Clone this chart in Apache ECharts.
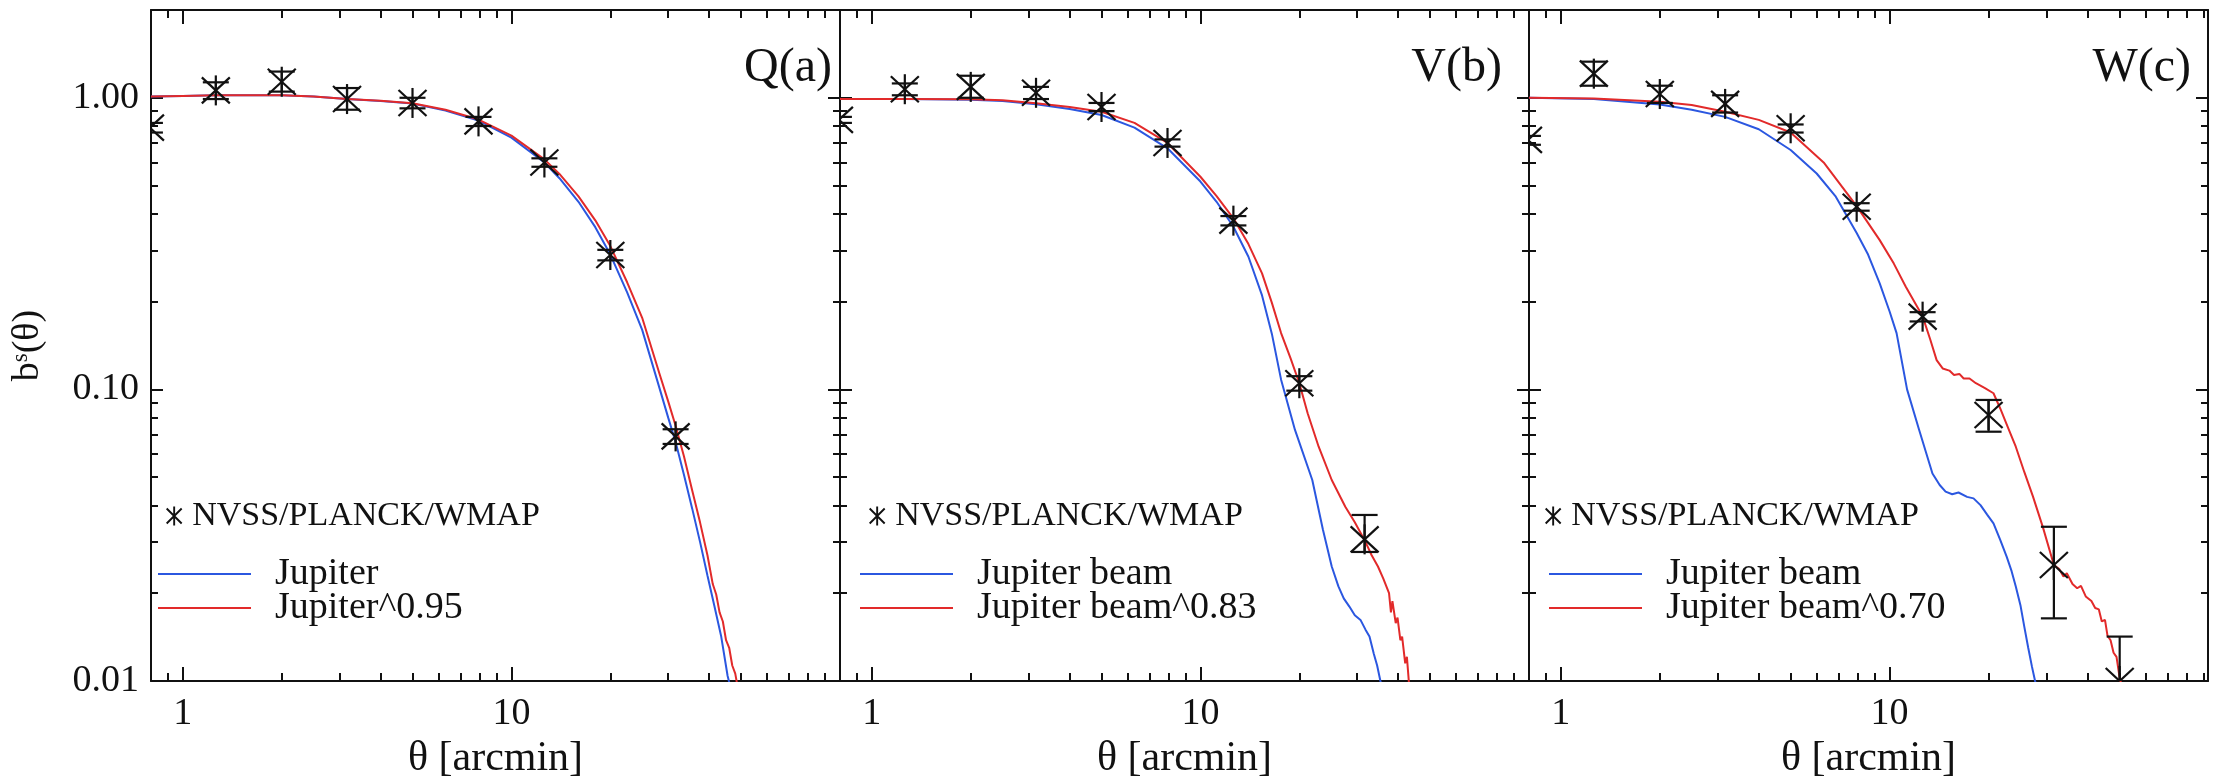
<!DOCTYPE html>
<html>
<head>
<meta charset="utf-8">
<script src="https://cdn.jsdelivr.net/npm/echarts@6/dist/echarts.min.js"></script>
<style>
  html, body { margin: 0; padding: 0; background: #ffffff; }
  #chart { width: 2216px; height: 781px; }
</style>
</head>
<body>
<div id="chart"></div>
<script>
// ---- angular bins of the stacked source profiles [arcmin] ----
const starTheta  = [0.794, 1.26, 2.0, 3.16, 5.0, 7.94, 12.6, 20.0, 31.6];
const starThetaW = [0.794, 1.26, 2.0, 3.16, 5.0, 7.94, 12.6, 20.0, 31.6, 50.1];

// ---- Q band: stacked profile with 1-sigma range ----
const qStack = [0.79, 1.06, 1.135, 0.99, 0.96, 0.83, 0.60, 0.289, 0.069];
const qLow   = [0.76, 0.99, 1.05, 0.91, 0.92, 0.80, 0.58, 0.277, 0.065];
const qHigh  = [0.82, 1.13, 1.23, 1.08, 1.00, 0.86, 0.62, 0.301, 0.073];

// ---- V band ----
const vStack = [0.84, 1.07, 1.09, 1.04, 0.93, 0.70, 0.379, 0.105, 0.0306];
const vLow   = [0.82, 1.02, 1.00, 0.99, 0.90, 0.68, 0.365, 0.099, 0.0277];
const vHigh  = [0.86, 1.12, 1.19, 1.09, 0.96, 0.72, 0.393, 0.111, 0.0371];

// ---- W band ----
const wStack = [0.717, 1.21, 1.03, 0.953, 0.786, 0.423, 0.1776, 0.0817, 0.0250, 0.0100];
const wLow   = [0.69, 1.10, 0.96, 0.89, 0.76, 0.41, 0.171, 0.0716, 0.0164, 0.0060];
const wHigh  = [0.74, 1.33, 1.10, 1.02, 0.81, 0.435, 0.184, 0.0920, 0.0338, 0.0142];

// ---- Jupiter beam profiles [theta, b] ----
const qJupiter = [[0.8,1.01],[1.0,1.015],[1.26,1.02],[1.6,1.02],[2.0,1.02],[2.5,1.01],[3.16,0.99],[4.0,0.975],
  [5.0,0.955],[6.3,0.905],[7.94,0.835],[10,0.73],[12.6,0.60],[14,0.53],[16,0.44],[18,0.36],[20,0.29],
  [22.5,0.215],[25,0.16],[28.3,0.10],[30,0.080],[31.6,0.066],[33.5,0.051],[35.5,0.039],[37.5,0.030],
  [39.5,0.023],[41.5,0.018],[43.5,0.0142],[45.5,0.0104],[47,0.009]];
const qJupiterPow = [[0.8,1.01],[1.0,1.015],[1.26,1.02],[1.6,1.02],[2.0,1.02],[2.5,1.01],[3.16,0.99],[4.0,0.976],
  [5.0,0.957],[6.3,0.91],[7.94,0.842],[10,0.742],[12.6,0.615],[14,0.548],[16,0.459],[18,0.38],[20,0.31],
  [22.5,0.233],[25,0.176],[28.3,0.112],[30,0.091],[31.6,0.075],[33.5,0.059],[35.5,0.045],[37.5,0.035],
  [39.5,0.027],[41,0.0215],[42,0.0198],[43,0.0172],[44,0.0160],[45,0.0138],[46,0.0130],[47,0.0113],
  [48,0.0106],[48.6,0.0098],[49.2,0.0092]];

const vBeam = [[0.8,0.99],[1.26,0.99],[2.0,0.985],[2.5,0.975],[3.16,0.95],[4.0,0.915],[5.0,0.873],[6.3,0.79],
  [7.94,0.671],[10,0.516],[11.2,0.44],[12.6,0.361],[14,0.285],[15.4,0.21],[16.5,0.155],[17.6,0.108],
  [19.4,0.0726],[21.9,0.0489],[23.6,0.033],[25.1,0.0247],[26.3,0.0211],[27.3,0.0192],[28.4,0.018],
  [29.5,0.0168],[30.7,0.0162],[31.8,0.0150],[32.7,0.0142],[33.7,0.0124],[34.5,0.0113],[35.3,0.0100],[36,0.0092]];
const vBeamPow = [[0.8,0.99],[1.26,0.99],[2.0,0.988],[2.5,0.98],[3.16,0.957],[4.0,0.93],[5.0,0.896],[6.3,0.82],
  [7.94,0.70],[10,0.536],[11.2,0.46],[12.6,0.386],[14,0.315],[15.4,0.25],[16.5,0.198],[17.6,0.156],
  [18.8,0.128],[20,0.105],[21.2,0.0828],[22.9,0.0636],[25.1,0.0489],[27.6,0.0396],[29.5,0.035],
  [31.6,0.0304],[33.2,0.027],[34.7,0.0247],[36,0.0225],[37.5,0.0200],[38.0,0.0172],[38.4,0.0188],
  [39.3,0.0158],[39.8,0.0165],[40.6,0.0138],[41.1,0.0142],[42,0.0115],[42.5,0.0121],[43.1,0.0099],[43.8,0.0092]];

const wBeam = [[0.8,1.0],[1.26,0.99],[2.0,0.948],[2.5,0.91],[3.16,0.86],[4.0,0.78],[5.0,0.662],[6.0,0.55],
  [6.86,0.458],[7.94,0.344],[8.6,0.29],[9.33,0.231],[10.0,0.185],[10.5,0.156],[11.3,0.10],[12.3,0.0726],
  [13.5,0.0515],[14.2,0.047],[14.8,0.0446],[15.5,0.0437],[16.2,0.0443],[17.2,0.0428],[18.0,0.0423],
  [18.9,0.0401],[19.8,0.0372],[20.7,0.0347],[21.7,0.0305],[22.7,0.0267],[23.5,0.0238],[24.2,0.0211],
  [25.0,0.0182],[25.7,0.0153],[26.4,0.013],[27.1,0.0112],[27.7,0.0100],[28.3,0.0091]];
const wBeamPow = [[0.8,1.0],[1.26,0.995],[2.0,0.97],[2.5,0.945],[3.16,0.896],[4.0,0.84],[5.0,0.76],[6.3,0.60],
  [7.94,0.425],[9.33,0.325],[10.3,0.27],[11.2,0.225],[12.6,0.178],[13.3,0.148],[13.9,0.126],[14.5,0.118],
  [15.2,0.116],[15.7,0.112],[16.3,0.113],[16.8,0.109],[17.5,0.109],[18.3,0.105],[19.5,0.101],[20.7,0.097],
  [21.7,0.086],[22.8,0.075],[24.2,0.0636],[25.7,0.052],[27.3,0.0429],[29.3,0.0335],[31.6,0.025],
  [32.8,0.0242],[33.8,0.0228],[34.6,0.0234],[36.0,0.0215],[37.2,0.0208],[38.2,0.0212],[39.5,0.0195],
  [41.1,0.0188],[42.2,0.0178],[43.3,0.0176],[44.2,0.0160],[45.2,0.0162],[46.0,0.0143],[47.0,0.0138],
  [48.0,0.0125],[49.0,0.0121],[50,0.0104],[50.8,0.0096]];

// ---- axis ticks ----
const xMajorTicks = [1, 10];
const xMinorTicks = [0.9, 2, 3, 4, 5, 6, 7, 8, 9, 20, 30, 40, 50, 60, 70, 80, 90];
const xTickLabels = [1, 10];
const yMajorTicks = [0.01, 0.1, 1];
const yMinorTicks = [0.02, 0.03, 0.04, 0.05, 0.06, 0.07, 0.08, 0.09, 0.2, 0.3, 0.4, 0.5, 0.6, 0.7, 0.8, 0.9];
const yTickLabels = [0.01, 0.1, 1];

const panelNames  = ['Q(a)', 'V(b)', 'W(c)'];
const blueNames   = ['Jupiter', 'Jupiter beam', 'Jupiter beam'];
const redNames    = ['Jupiter^0.95', 'Jupiter beam^0.83', 'Jupiter beam^0.70'];
const stackName   = 'NVSS/PLANCK/WMAP';

const INK = '#111111';
const BLUE = '#2b57e0';
const RED = '#e22a2a';
const FONT = 'Liberation Serif';

const panels = [
  { left: 151,  width: 689, xMax: 100, theta: starTheta,  stack: qStack, lo: qLow, hi: qHigh, blue: qJupiter, red: qJupiterPow, legendX: 158,  starX: 176,  titleRight: 1384 },
  { left: 840,  width: 689, xMax: 100, theta: starTheta,  stack: vStack, lo: vLow, hi: vHigh, blue: vBeam,    red: vBeamPow,    legendX: 860,  starX: 879,  titleRight: 714 },
  { left: 1529, width: 679, xMax: 93,  theta: starThetaW, stack: wStack, lo: wLow, hi: wHigh, blue: wBeam,    red: wBeamPow,    legendX: 1549, starX: 1555, titleRight: 25 }
];
const GRID_TOP = 10, GRID_H = 671;

// asterisk with its error bar, drawn in data coordinates
function renderStar(params, api) {
  const x = api.value(0);
  const c = api.coord([x, api.value(1)]);
  const lo = api.coord([x, api.value(2)]);
  const hi = api.coord([x, api.value(3)]);
  const st = { stroke: INK, lineWidth: 2.2, fill: null };
  const cap = 13, arm = 15, dx = 14, dy = 13;
  return {
    type: 'group',
    children: [
      { type: 'line', shape: { x1: c[0], y1: hi[1], x2: c[0], y2: lo[1] }, style: st },
      { type: 'line', shape: { x1: c[0] - cap, y1: hi[1], x2: c[0] + cap, y2: hi[1] }, style: st },
      { type: 'line', shape: { x1: c[0] - cap, y1: lo[1], x2: c[0] + cap, y2: lo[1] }, style: st },
      { type: 'line', shape: { x1: c[0], y1: c[1] - arm, x2: c[0], y2: c[1] + arm }, style: st },
      { type: 'line', shape: { x1: c[0] - dx, y1: c[1] - dy, x2: c[0] + dx, y2: c[1] + dy }, style: st },
      { type: 'line', shape: { x1: c[0] - dx, y1: c[1] + dy, x2: c[0] + dx, y2: c[1] - dy }, style: st }
    ]
  };
}

const STAR_ICON = 'path://M9 0L11 0L11 20L9 20ZM1.4 2.8L2.8 1.4L18.6 17.2L17.2 18.6ZM17.2 1.4L18.6 2.8L2.8 18.6L1.4 17.2Z';

const grids = [], xAxes = [], yAxes = [], series = [], legends = [], titles = [];

function tickAxis(extra) {
  return Object.assign({
    type: 'log', logBase: 10,
    splitLine: { show: false },
    axisLine: { show: false },
    axisLabel: { show: false },
    axisTick: { show: true, inside: true, lineStyle: { color: INK, width: 2 } }
  }, extra);
}

panels.forEach((p, g) => {
  grids.push({ left: p.left, top: GRID_TOP, width: p.width, height: GRID_H, containLabel: false, outerBoundsMode: 'none' });

  const xBase = { gridIndex: g, min: 0.8, max: p.xMax };
  const yBase = { gridIndex: g, min: 0.01, max: 2 };
  const lineOn = { show: true, lineStyle: { color: INK, width: 2 } };

  xAxes.push(tickAxis(Object.assign({}, xBase, {
    position: 'bottom', axisLine: lineOn,
    axisTick: { show: true, inside: true, length: 14, customValues: xMajorTicks, lineStyle: { color: INK, width: 2 } },
    axisLabel: { show: true, customValues: xTickLabels, margin: 14, color: INK, fontFamily: FONT, fontSize: 38,
      formatter: v => String(Math.round(v)) },
    name: 'θ [arcmin]', nameLocation: 'middle', nameGap: 51,
    nameTextStyle: { color: INK, fontFamily: FONT, fontSize: 42 }
  })));
  xAxes.push(tickAxis(Object.assign({}, xBase, {
    position: 'bottom',
    axisTick: { show: true, inside: true, length: 8, customValues: xMinorTicks, lineStyle: { color: INK, width: 2 } }
  })));
  xAxes.push(tickAxis(Object.assign({}, xBase, {
    position: 'top', axisLine: lineOn,
    axisTick: { show: true, inside: true, length: 14, customValues: xMajorTicks, lineStyle: { color: INK, width: 2 } }
  })));
  xAxes.push(tickAxis(Object.assign({}, xBase, {
    position: 'top',
    axisTick: { show: true, inside: true, length: 8, customValues: xMinorTicks, lineStyle: { color: INK, width: 2 } }
  })));

  const leftMain = tickAxis(Object.assign({}, yBase, {
    position: 'left', axisLine: lineOn,
    axisTick: { show: true, inside: true, length: 12, customValues: yMajorTicks, lineStyle: { color: INK, width: 2 } }
  }));
  if (g === 0) {
    leftMain.axisLabel = { show: true, customValues: yTickLabels, margin: 12, color: INK, fontFamily: FONT, fontSize: 38,
      formatter: v => Number(v).toFixed(2) };
    leftMain.name = '{b|b}{s|s}{b|(θ)}';
    leftMain.nameLocation = 'middle';
    leftMain.nameGap = 104;
    leftMain.nameRotate = 90;
    leftMain.nameTextStyle = { color: INK, fontFamily: FONT, fontSize: 38,
      rich: { b: { fontFamily: FONT, fontSize: 38, color: INK }, s: { fontFamily: FONT, fontSize: 23, color: INK, verticalAlign: 'top' } } };
  }
  yAxes.push(leftMain);
  yAxes.push(tickAxis(Object.assign({}, yBase, {
    position: 'left',
    axisTick: { show: true, inside: true, length: 7, customValues: yMinorTicks, lineStyle: { color: INK, width: 2 } }
  })));
  yAxes.push(tickAxis(Object.assign({}, yBase, {
    position: 'right', axisLine: lineOn,
    axisTick: { show: true, inside: true, length: 12, customValues: yMajorTicks, lineStyle: { color: INK, width: 2 } }
  })));
  yAxes.push(tickAxis(Object.assign({}, yBase, {
    position: 'right',
    axisTick: { show: true, inside: true, length: 7, customValues: yMinorTicks, lineStyle: { color: INK, width: 2 } }
  })));

  const xi = 4 * g, yi = 4 * g;
  series.push({
    type: 'line', name: blueNames[g], xAxisIndex: xi, yAxisIndex: yi, data: p.blue,
    showSymbol: false, symbol: 'none', clip: true, silent: true, z: 2,
    itemStyle: { color: BLUE }, lineStyle: { color: BLUE, width: 2 }
  });
  series.push({
    type: 'line', name: redNames[g], xAxisIndex: xi, yAxisIndex: yi, data: p.red,
    showSymbol: false, symbol: 'none', clip: true, silent: true, z: 3,
    itemStyle: { color: RED }, lineStyle: { color: RED, width: 2 }
  });
  series.push({
    type: 'custom', name: stackName, xAxisIndex: xi, yAxisIndex: yi, coordinateSystem: 'cartesian2d',
    data: p.theta.map((t, i) => [t, p.stack[i], p.lo[i], p.hi[i]]),
    encode: { x: 0, y: 1 }, clip: true, silent: true, z: 5,
    itemStyle: { color: INK }, renderItem: renderStar
  });

  legends.push({
    left: p.starX - 10, top: 499, padding: 0, selectedMode: false,
    itemWidth: 20, itemHeight: 19,
    data: [{ name: stackName, icon: STAR_ICON, itemStyle: { color: INK, borderWidth: 0 } }],
    textStyle: { color: INK, fontFamily: FONT, fontSize: 34, padding: [0, 0, 0, 3] }
  });
  legends.push({
    left: p.legendX, top: 555, padding: 0, selectedMode: false,
    itemWidth: 93, itemHeight: 2,
    data: [{ name: blueNames[g], icon: 'rect', itemStyle: { color: BLUE, borderWidth: 0 } }],
    textStyle: { color: INK, fontFamily: FONT, fontSize: 38, padding: [0, 0, 0, 19] }
  });
  legends.push({
    left: p.legendX, top: 589, padding: 0, selectedMode: false,
    itemWidth: 93, itemHeight: 2,
    data: [{ name: redNames[g], icon: 'rect', itemStyle: { color: RED, borderWidth: 0 } }],
    textStyle: { color: INK, fontFamily: FONT, fontSize: 38, padding: [0, 0, 0, 19] }
  });

  titles.push({
    text: panelNames[g], right: p.titleRight, top: 44, padding: 0,
    textStyle: { color: INK, fontFamily: FONT, fontSize: 48, fontWeight: 'normal' }
  });
});

const chart = echarts.init(document.getElementById('chart'), null, { renderer: 'canvas' });
chart.setOption({
  backgroundColor: '#ffffff',
  animation: false,
  title: titles,
  legend: legends,
  grid: grids,
  xAxis: xAxes,
  yAxis: yAxes,
  series: series
});
</script>
</body>
</html>
